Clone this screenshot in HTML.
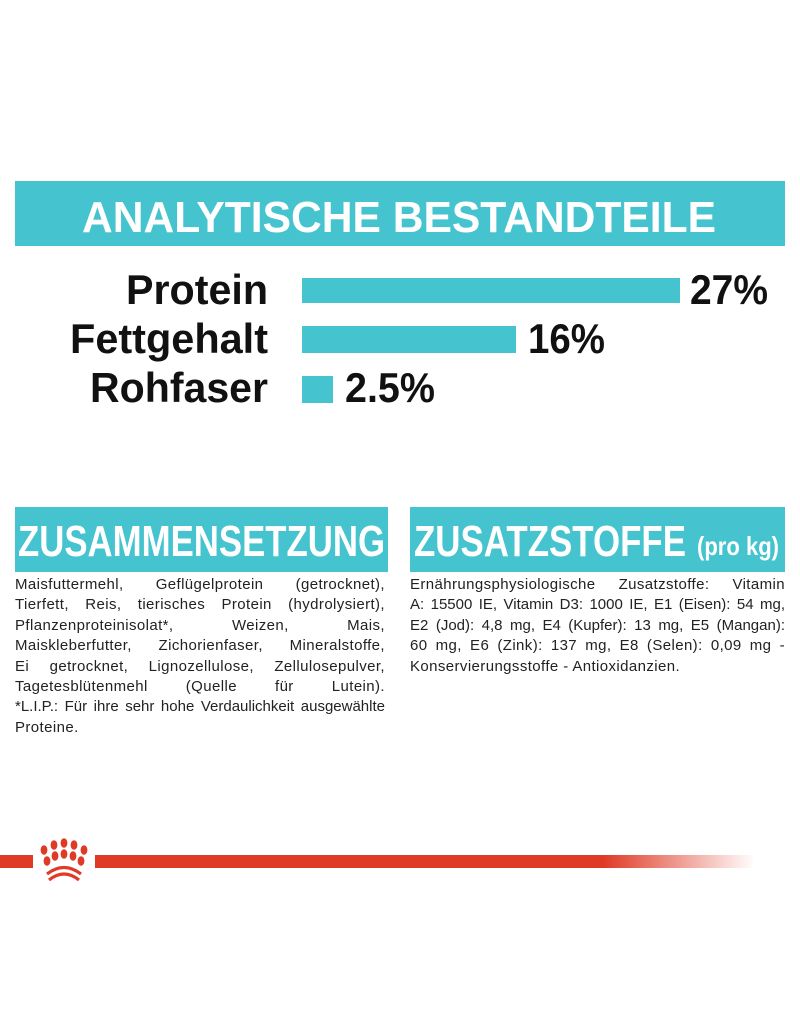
<!DOCTYPE html>
<html><head><meta charset="utf-8"><style>
body{margin:0;width:800px;height:1012px;background:#fff;position:relative;overflow:hidden;font-family:"Liberation Sans",sans-serif;color:#1a1a1a}
.abs{position:absolute}
.teal{background:#45c3cf}
.txt{font-size:15px;line-height:20.4px;color:#222;letter-spacing:0.4px}
.txt div{text-align:justify;text-align-last:justify;white-space:nowrap}
.txt div.l{text-align-last:left}
</style></head><body>
<div class="abs teal" style="left:15px;top:181px;width:770px;height:65px"></div>
<div class="abs teal" style="left:302px;top:278px;width:378px;height:25px"></div>
<div class="abs teal" style="left:302px;top:326px;width:214px;height:27px"></div>
<div class="abs teal" style="left:302px;top:376px;width:31px;height:27px"></div>
<div class="abs teal" style="left:15px;top:507px;width:373px;height:65px"></div>
<div class="abs teal" style="left:410px;top:507px;width:375px;height:65px"></div>

<svg class="abs" style="left:0;top:0" width="800" height="1012">
<g font-family="Liberation Sans, sans-serif" font-weight="bold" fill="#fff">
<text x="82" y="232" font-size="44" textLength="634" lengthAdjust="spacingAndGlyphs">ANALYTISCHE BESTANDTEILE</text>
<text x="18" y="556" font-size="44" textLength="367" lengthAdjust="spacingAndGlyphs">ZUSAMMENSETZUNG</text>
<text x="414" y="556" font-size="44" textLength="272" lengthAdjust="spacingAndGlyphs">ZUSATZSTOFFE</text>
<text x="697" y="555" font-size="26" textLength="82" lengthAdjust="spacingAndGlyphs">(pro kg)</text>
</g>
<g font-family="Liberation Sans, sans-serif" font-weight="bold" fill="#111" font-size="42">
<text x="268" y="304" text-anchor="end" textLength="142" lengthAdjust="spacingAndGlyphs">Protein</text>
<text x="268" y="353" text-anchor="end" textLength="198" lengthAdjust="spacingAndGlyphs">Fettgehalt</text>
<text x="268" y="402" text-anchor="end" textLength="178" lengthAdjust="spacingAndGlyphs">Rohfaser</text>
<text x="690" y="304" textLength="78" lengthAdjust="spacingAndGlyphs">27%</text>
<text x="528" y="353" textLength="77" lengthAdjust="spacingAndGlyphs">16%</text>
<text x="345" y="402" textLength="90" lengthAdjust="spacingAndGlyphs">2.5%</text>
</g>
</svg>

<div class="abs txt" style="left:15px;top:575px;width:370px">
<div>Maisfuttermehl, Geflügelprotein (getrocknet),</div>
<div>Tierfett, Reis, tierisches Protein (hydrolysiert),</div>
<div>Pflanzenproteinisolat*, Weizen, Mais,</div>
<div>Maiskleberfutter, Zichorienfaser, Mineralstoffe,</div>
<div>Ei getrocknet, Lignozellulose, Zellulosepulver,</div>
<div>Tagetesblütenmehl (Quelle für Lutein).</div>
<div style="letter-spacing:0">*L.I.P.: Für ihre sehr hohe Verdaulichkeit ausgewählte</div>
<div class="l">Proteine.</div>
</div>
<div class="abs txt" style="left:410px;top:575px;width:375px">
<div>Ernährungsphysiologische Zusatzstoffe: Vitamin</div>
<div style="letter-spacing:0">A: 15500 IE, Vitamin D3: 1000 IE, E1 (Eisen): 54 mg,</div>
<div style="letter-spacing:0">E2 (Jod): 4,8 mg, E4 (Kupfer): 13 mg, E5 (Mangan):</div>
<div>60 mg, E6 (Zink): 137 mg, E8 (Selen): 0,09 mg -</div>
<div class="l">Konservierungsstoffe - Antioxidanzien.</div>
</div>

<div class="abs" style="left:0;top:855px;width:33px;height:13px;background:#df3a26"></div>
<div class="abs" style="left:95px;top:855px;width:660px;height:13px;background:linear-gradient(to right,#df3a26 0%,#df3a26 77%,rgba(223,58,38,0) 100%)"></div>
<svg class="abs" style="left:36px;top:836px" width="56" height="50" viewBox="0 0 56 48">
<g fill="#df3a26">
<ellipse cx="28" cy="6" rx="3.4" ry="4.7"/><ellipse cx="38" cy="8" rx="3.4" ry="4.7"/><ellipse cx="18" cy="8" rx="3.4" ry="4.7"/>
<ellipse cx="48" cy="13" rx="3.4" ry="4.7"/><ellipse cx="8" cy="13" rx="3.4" ry="4.7"/>
<ellipse cx="28" cy="17" rx="3.4" ry="4.7"/><ellipse cx="37" cy="19" rx="3.4" ry="4.7"/><ellipse cx="19" cy="19" rx="3.4" ry="4.7"/>
<ellipse cx="45" cy="24" rx="3.4" ry="4.7"/><ellipse cx="11" cy="24" rx="3.4" ry="4.7"/>
</g>
<path d="M11 37 Q28 24 45 37" stroke="#df3a26" stroke-width="3.2" fill="none"/>
<path d="M13 43 Q28 31 43 43" stroke="#df3a26" stroke-width="3.2" fill="none"/>
</svg>
</body></html>
